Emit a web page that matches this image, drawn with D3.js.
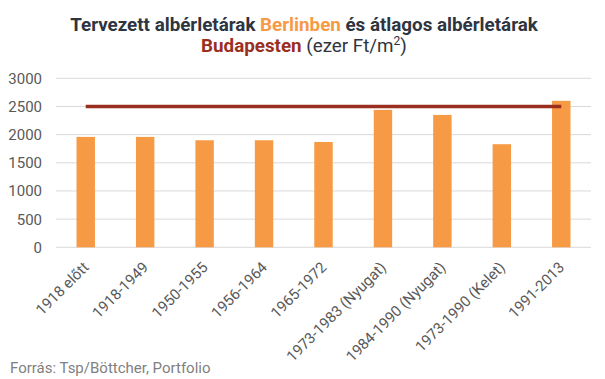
<!DOCTYPE html>
<html><head><meta charset="utf-8">
<script src="https://cdn.jsdelivr.net/npm/d3@7"></script>
<style>body{margin:0;background:#fff;}svg{display:block;font-family:Roboto,sans-serif;}</style>
</head><body><svg id="c" width="605" height="379"></svg>
<script>
const categories = ["1918 előtt","1918-1949","1950-1955","1956-1964","1965-1972","1973-1983 (Nyugat)","1984-1990 (Nyugat)","1973-1990 (Kelet)","1991-2013"];
const berlinValues = [1960,1960,1900,1900,1870,2440,2350,1830,2600];
const budapestValues = [2500,2500,2500,2500,2500,2500,2500,2500,2500];
const yTicks = [0,500,1000,1500,2000,2500,3000];

const svg = d3.select("#c");
const m = {left:56, right:591, top:78.3, bottom:247.3};
const x = d3.scaleBand().domain(categories).range([m.left,m.right]).paddingInner(0.69).paddingOuter(0.345);
const y = d3.scaleLinear().domain([0,3000]).range([m.bottom,m.top]);

// grid
svg.append("g").selectAll("line").data(yTicks).join("line")
  .attr("x1",m.left).attr("x2",m.right)
  .attr("y1",d=>y(d)).attr("y2",d=>y(d))
  .attr("stroke","#d9d9d9").attr("stroke-width",1);

// y labels
svg.append("g").selectAll("text").data(yTicks).join("text")
  .attr("x",42).attr("y",d=>y(d)).attr("dy","0.36em")
  .attr("text-anchor","end").attr("font-size",15).attr("fill","#595959")
  .text(d=>d);

// bars
svg.append("g").selectAll("rect").data(berlinValues).join("rect")
  .attr("x",(d,i)=>x(categories[i])).attr("width",x.bandwidth())
  .attr("y",d=>y(d)).attr("height",d=>y(0)-y(d))
  .attr("fill","#f79a45");

// line
const line = d3.line().x((d,i)=>x(categories[i])+x.bandwidth()/2).y(d=>y(d));
svg.append("path").datum(budapestValues).attr("d",line)
  .attr("fill","none").attr("stroke","#9b2f1f").attr("stroke-width",3.5);

// x labels
svg.append("g").selectAll("text").data(categories).join("text")
  .attr("transform",d=>`translate(${x(d)+x.bandwidth()/2+4},${m.bottom+21}) rotate(-45)`)
  .attr("text-anchor","end").attr("font-size",15).attr("fill","#595959")
  .text(d=>d);

// title
const t1 = svg.append("text").attr("x",304).attr("y",30.5).attr("text-anchor","middle")
  .attr("font-size",18.8).attr("font-weight","bold").attr("fill","#2e3440");
t1.append("tspan").text("Tervezett albérletárak ");
t1.append("tspan").attr("fill","#f79a45").text("Berlinben");
t1.append("tspan").text(" és átlagos albérletárak");
const t2 = svg.append("text").attr("x",304).attr("y",52).attr("text-anchor","middle")
  .attr("font-size",18.8).attr("fill","#2e3440");
t2.append("tspan").attr("font-weight","bold").attr("fill","#9b2f1f").text("Budapesten");
t2.append("tspan").text(" (ezer Ft/m");
t2.append("tspan").attr("font-size",12).attr("dy",-7).text("2");
t2.append("tspan").attr("dy",7).text(")");

// source
svg.append("text").attr("x",10).attr("y",373).attr("font-size",15).attr("fill","#7f7f7f")
  .text("Forrás: Tsp/Böttcher, Portfolio");
</script></body></html>
